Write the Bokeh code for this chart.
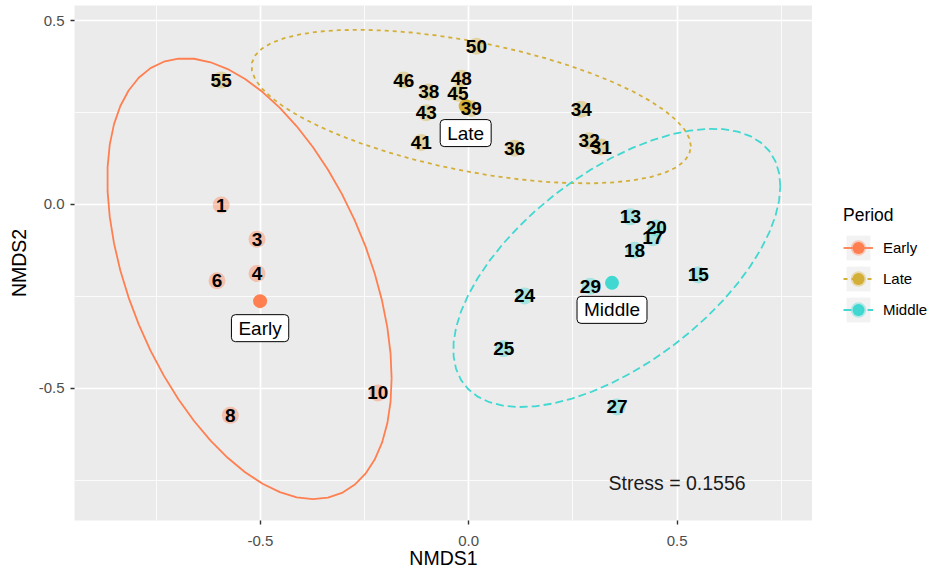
import numpy as np
from bokeh.plotting import figure
from bokeh.layouts import row
from bokeh.models import (Label, Legend, LegendItem, Range1d, FixedTicker,
                          NumeralTickFormatter)
from bokeh.core.properties import value
from bokeh.embed import file_html
from bokeh.resources import INLINE

# ---------------- data ----------------
periods = ["Early", "Late", "Middle"]
colors = ["#FF7F50", "#D4AF37", "#40D8D0"]
dashes = ["solid", "4 4", "8 4"]

early_ids = ["1", "3", "4", "6", "8", "10"]
early_x = [-0.594, -0.508, -0.508, -0.604, -0.572, -0.218]
early_y = [-0.002, -0.095, -0.188, -0.208, -0.574, -0.513]

late_ids = ["55", "50", "46", "38", "48", "45", "39", "43", "41", "36", "34", "32", "31"]
late_x = [-0.594, 0.0185, -0.156, -0.096, -0.018, -0.026, 0.006, -0.102, -0.114, 0.110, 0.270, 0.289, 0.318]
late_y = [0.338, 0.430, 0.338, 0.306, 0.343, 0.302, 0.261, 0.249, 0.168, 0.153, 0.259, 0.173, 0.156]

middle_ids = ["13", "20", "17", "18", "15", "29", "24", "25", "27"]
middle_x = [0.388, 0.450, 0.442, 0.398, 0.551, 0.292, 0.134, 0.084, 0.356]
middle_y = [-0.034, -0.064, -0.091, -0.125, -0.192, -0.223, -0.249, -0.393, -0.551]

stress = 0.1556
major_ticks = [-0.5, 0.0, 0.5]
minor_ticks_x = [-0.75, -0.25, 0.25, 0.75]
minor_ticks_y = [-0.75, -0.25, 0.25]

groups = [(early_ids, early_x, early_y), (late_ids, late_x, late_y), (middle_ids, middle_x, middle_y)]

FONT = "Liberation Sans"


# ---------------- stat_ellipse(type = "t") equivalent ----------------
def cov_trob(X, nu=5, maxit=25, tol=0.01):
    n, p = X.shape
    wt = np.ones(n)
    loc = X.mean(axis=0)
    w = np.sqrt(wt)
    Xc = X - loc
    for _ in range(maxit):
        w0 = w
        Xc = X - loc
        s = np.sqrt(w / w.sum())[:, None] * Xc
        _, d, vt = np.linalg.svd(s, full_matrices=False)
        wX = Xc @ vt.T @ np.diag(1.0 / d)
        Q = (wX ** 2).sum(axis=1)
        w = wt * (nu + p) / (nu + Q)
        loc = (w[:, None] * X).sum(axis=0) / w.sum()
        if np.all(np.abs(w - w0) < tol):
            break
    sw = np.sqrt(w)[:, None] * Xc
    cov = sw.T @ sw / wt.sum()
    return loc, cov


def ellipse_path(x, y, level=0.95, segments=51):
    X = np.column_stack([x, y])
    center, shape = cov_trob(X)
    dfd = len(x) - 1
    qf = dfd / 2.0 * ((1 - level) ** (-2.0 / dfd) - 1)
    radius = np.sqrt(2 * qf)
    R = np.linalg.cholesky(shape).T
    ang = np.arange(segments + 1) * 2 * np.pi / segments
    circ = np.column_stack([np.cos(ang), np.sin(ang)])
    pts = center + radius * (circ @ R)
    return pts[:, 0], pts[:, 1]


# ---------------- main plot ----------------
p = figure(width=812, height=571,
           x_range=Range1d(-0.946, 0.825), y_range=Range1d(-0.860, 0.541),
           output_backend="svg", toolbar_location=None,
           min_border_left=74, min_border_right=0, min_border_top=5, min_border_bottom=49)
p.background_fill_color = "#EBEBEB"
p.border_fill_color = "white"
p.outline_line_color = None

p.xaxis.ticker = FixedTicker(ticks=major_ticks, minor_ticks=minor_ticks_x)
p.yaxis.ticker = FixedTicker(ticks=major_ticks, minor_ticks=minor_ticks_y)
for g in (p.xgrid, p.ygrid):
    g.grid_line_color = "white"
    g.grid_line_width = 1.7
    g.minor_grid_line_color = "white"
    g.minor_grid_line_width = 0.8

for ax in (p.xaxis, p.yaxis):
    ax.formatter = NumeralTickFormatter(format="0.0")
    ax.axis_line_color = None
    ax.major_tick_line_color = "#333333"
    ax.major_tick_line_width = 1.4
    ax.major_tick_out = 4
    ax.major_tick_in = 0
    ax.minor_tick_out = 0
    ax.minor_tick_in = 0
    ax.major_label_text_font = FONT
    ax.major_label_text_font_size = "15px"
    ax.major_label_text_color = "#4D4D4D"
    ax.axis_label_text_font = FONT
    ax.axis_label_text_font_size = "19.5px"
    ax.axis_label_text_font_style = "normal"
    ax.axis_label_text_color = "black"
p.xaxis.major_label_standoff = 11
p.xaxis.axis_label_standoff = -2
p.yaxis.major_label_standoff = 6
p.yaxis.axis_label_standoff = 6
p.xaxis.axis_label = "NMDS1"
p.yaxis.axis_label = "NMDS2"

# ellipses
for (ids, gx, gy), col, dash in zip(groups, colors, dashes):
    ex, ey = ellipse_path(np.array(gx), np.array(gy))
    p.line(ex, ey, line_color=col, line_width=1.8, line_dash=dash)

# points
for (ids, gx, gy), col in zip(groups, colors):
    p.scatter(gx, gy, size=17, fill_color=col, fill_alpha=0.4, line_color=None)

# centroids
cents = []
for (ids, gx, gy), col in zip(groups, colors):
    cx, cy = float(np.mean(gx)), float(np.mean(gy))
    cents.append((cx, cy))
    p.scatter([cx], [cy], size=14, fill_color=col, line_color=None)

# point labels
for ids, gx, gy in groups:
    p.text(gx, gy, text=ids, text_align="center", text_baseline="middle",
           text_font=value(FONT), text_font_style="bold", text_font_size="19px",
           text_color="black")

# group labels
for name, (cx, cy) in zip(periods, cents):
    p.add_layout(Label(x=cx, y=cy, y_offset=-27, text=name, text_align="center",
                       text_baseline="middle", text_font=FONT, text_font_size="19px",
                       text_color="black", background_fill_color="white",
                       border_line_color="black", border_line_width=1, border_radius=4,
                       padding=dict(left=7, right=7, top=3, bottom=3)))

# stress annotation
p.add_layout(Label(x=0.5, y=-0.75, y_offset=-3, text=f"Stress = {stress}", text_align="center",
                   text_baseline="middle", text_font=FONT, text_font_size="19.5px",
                   text_color="#1A1A1A"))

# ---------------- legend panel ----------------
lg = figure(width=121, height=571, x_range=Range1d(0, 1), y_range=Range1d(0, 1),
            x_axis_type=None, y_axis_type=None,
            output_backend="svg", toolbar_location=None, min_border=0)
lg.outline_line_color = None
lg.background_fill_color = "white"
lg.border_fill_color = "white"

# key renderers sit outside the visible range; only their legend swatches show
off = [5.0, 6.0]
bg = lg.rect(x=off[:1], y=off[:1], width=1, height=1, fill_color="#F2F2F2", line_color=None)
items = []
for name, col, dash in zip(periods, colors, dashes):
    ln = lg.line(x=off, y=off, line_color=col, line_width=1.8, line_dash=dash)
    mk = lg.scatter(x=off[:1], y=off[:1], size=12, fill_color=col, line_color=col, line_width=3.5,
                    line_alpha=0.35)
    items.append(LegendItem(label=name, renderers=[bg, ln, mk]))

legend = Legend(items=items, location=(31, 195), title="Period",
                title_text_font=FONT, title_text_font_size="17.5px", title_text_font_style="normal",
                title_text_color="black", title_standoff=6,
                label_text_font=FONT, label_text_font_size="15px", label_text_color="black",
                glyph_width=30, glyph_height=31, label_height=31, spacing=0, padding=0, margin=0,
                label_standoff=10, border_line_color=None, background_fill_alpha=0)
lg.add_layout(legend)

layout = row(p, lg, spacing=0)
open("out.html", "w").write(file_html(layout, INLINE))
